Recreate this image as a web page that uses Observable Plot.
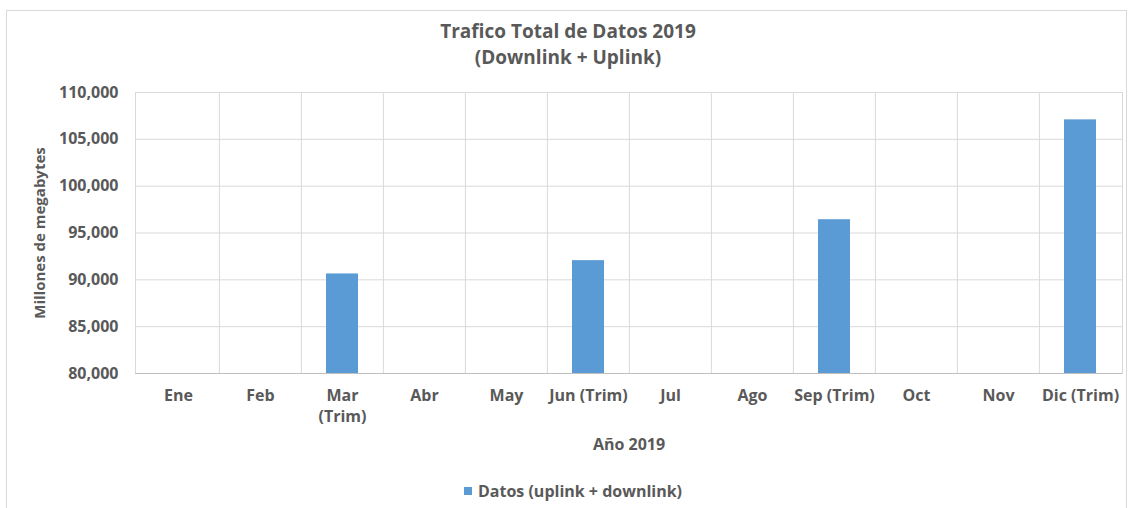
<!DOCTYPE html>
<html>
<head>
<meta charset="utf-8">
<script src="https://cdn.jsdelivr.net/npm/d3@7"></script>
<script src="https://cdn.jsdelivr.net/npm/@observablehq/plot@0.6"></script>
<style>
  html, body { margin: 0; padding: 0; background: #fff; }
  #wrap { position: relative; width: 1132px; height: 508px; overflow: hidden; font-family: "Open Sans", Lato, sans-serif; color: #595959; }
  #box { position: absolute; left: 6px; top: 10px; width: 1121px; height: 510px; border: 1px solid #d9d9d9; box-sizing: border-box; }
  #title { position: absolute; left: 0; width: 1132px; top: 18px; text-align: center; font-weight: bold; font-size: 19px; line-height: 26px; padding-left: 4px; box-sizing: border-box; }
  #chart { position: absolute; left: 0; top: 75px; }
  #legend { position: absolute; top: 480px; left: 0; width: 1132px; text-align: center; font-weight: bold; font-size: 16px; padding-left: 14px; box-sizing: border-box; }
  #legend .sw { display: inline-block; width: 8px; height: 8px; background: #5b9bd5; margin-right: 6px; vertical-align: 2px; }
</style>
</head>
<body>
<div id="wrap">
  <div id="box"></div>
  <div id="title">Trafico Total de Datos 2019<br>(Downlink + Uplink)</div>
  <div id="chart"></div>
  <div id="legend"><span class="sw"></span>Datos (uplink + downlink)</div>
</div>
<script>
const months = ["Ene", "Feb", "Mar (Trim)", "Abr", "May", "Jun (Trim)", "Jul", "Ago", "Sep (Trim)", "Oct", "Nov", "Dic (Trim)"];
const tickLabels = ["Ene", "Feb", "Mar\n(Trim)", "Abr", "May", "Jun (Trim)", "Jul", "Ago", "Sep (Trim)", "Oct", "Nov", "Dic (Trim)"];
const traffic = [null, null, 90630, null, null, 92050, null, null, 96420, null, null, 107080];
const yTicks = [80000, 85000, 90000, 95000, 100000, 105000, 110000];
const seriesName = "Datos (uplink + downlink)";

const data = months.map((m, i) => ({month: m, value: traffic[i]})).filter(d => d.value != null);
const labelOf = new Map(months.map((m, i) => [m, tickLabels[i]]));

const W = 1132, H = 385, mL = 135, mR = 10, mT = 17, mB = 87;
const step = (W - mL - mR) / months.length;
const grid = "#d9d9d9";
const txt = "#595959";

const chart = Plot.plot({
  width: W, height: H,
  marginLeft: mL, marginRight: mR, marginTop: mT, marginBottom: mB,
  style: {fontFamily: "'Open Sans', Lato, sans-serif", fontWeight: "bold", color: txt, fontSize: "16px", background: "transparent"},
  x: {domain: months, paddingInner: 0.61, paddingOuter: 0.305},
  y: {domain: [80000, 110000]},
  marks: [
    Plot.gridY(yTicks, {stroke: grid, strokeOpacity: 1}),
    Plot.ruleX(months.slice(1), {x: d => d, dx: -step / 2, stroke: grid}),
    Plot.frame({stroke: grid}),
    Plot.barY(data, {x: "month", y1: 80000, y2: "value", fill: "#5b9bd5"}),
    Plot.ruleY([80000], {stroke: "#bfbfbf"}),
    Plot.axisY(yTicks, {tickSize: 0, tickPadding: 17, tickFormat: d3.format(","), fontSize: 16, fontWeight: "bold", fill: txt,
      label: null}),
    Plot.axisY({tickSize: 0, ticks: [], fontSize: 15, fontWeight: "bold", fill: txt,
      label: "Millones de megabytes", labelAnchor: "center", labelArrow: "none", labelOffset: 101}),
    Plot.axisX({tickSize: 0, tickPadding: 12, tickFormat: d => labelOf.get(d), fontSize: 16, fontWeight: "bold", fill: txt, lineHeight: 1.35,
      label: "Año 2019", labelAnchor: "center", labelArrow: "none", labelOffset: 76})
  ]
});
document.getElementById("chart").appendChild(chart);
</script>
</body>
</html>
